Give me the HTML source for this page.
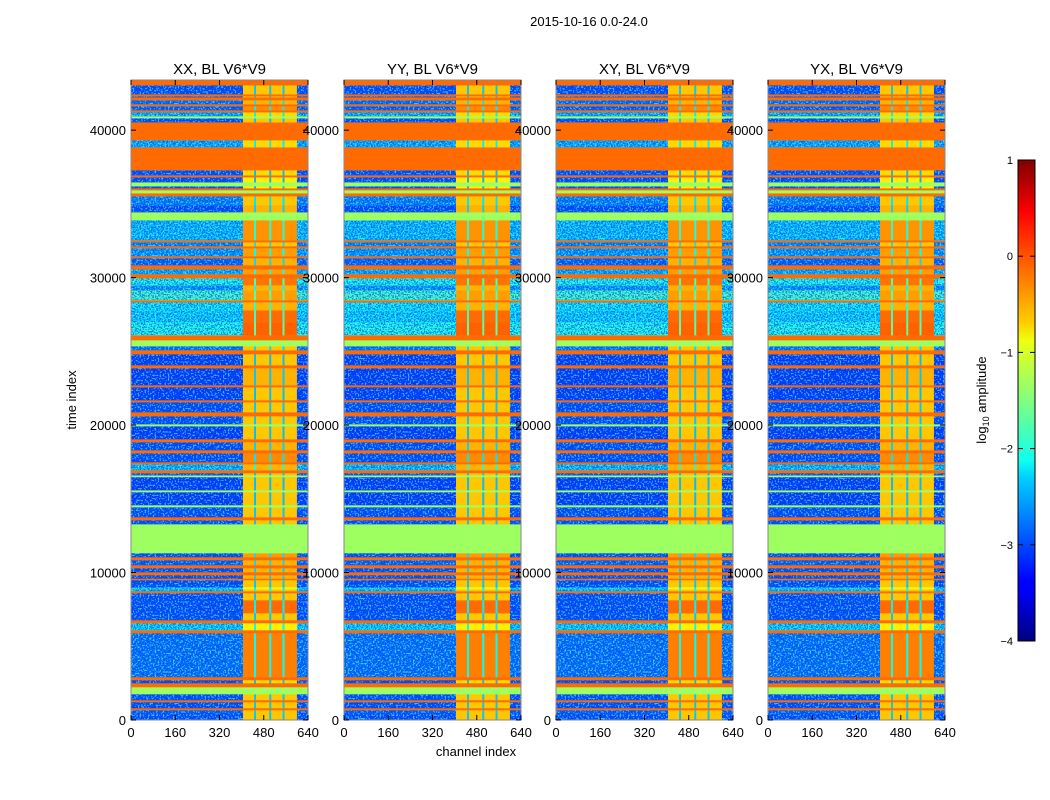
<!DOCTYPE html>
<html><head><meta charset="utf-8">
<style>
body{margin:0;background:#fff;}
svg{display:block;font-family:"Liberation Sans",sans-serif;}
</style></head>
<body>
<svg id="chart" width="1050" height="800" viewBox="0 0 1050 800">
<defs>
<linearGradient id="jet" x1="0" y1="1" x2="0" y2="0">
<stop offset="0" stop-color="#000080"/><stop offset="0.11" stop-color="#0000ff"/>
<stop offset="0.125" stop-color="#0000ff"/><stop offset="0.34" stop-color="#00d0ff"/>
<stop offset="0.375" stop-color="#10ffef"/><stop offset="0.5" stop-color="#80ff80"/>
<stop offset="0.625" stop-color="#efff10"/><stop offset="0.66" stop-color="#ffd000"/>
<stop offset="0.875" stop-color="#ff1000"/><stop offset="0.89" stop-color="#ff0000"/>
<stop offset="1" stop-color="#800000"/>
</linearGradient>
<filter id="speck" x="0" y="0" width="100%" height="100%">
<feTurbulence type="fractalNoise" baseFrequency="0.7" numOctaves="1" seed="3"/>
<feColorMatrix type="matrix" values="0 0 0 0 0  0 0 0 0 0.05  0 0 0 0 0.8  0 0 0 -9 5"/>
</filter>
<filter id="speck2" x="0" y="0" width="100%" height="100%">
<feTurbulence type="fractalNoise" baseFrequency="0.6" numOctaves="1" seed="11"/>
<feColorMatrix type="matrix" values="0 0 0 0 0.1  0 0 0 0 0.9  0 0 0 0 1  0 0 0 -9 4.2"/>
</filter>
<pattern id="noise" patternUnits="userSpaceOnUse" width="120" height="120">
<rect width="120" height="120" filter="url(#speck)"/>
<rect width="120" height="120" filter="url(#speck2)"/>
</pattern>
</defs>
<text x="589" y="26" font-size="13" text-anchor="middle">2015-10-16 0.0-24.0</text>
<g id="panels"></g>
<text x="476" y="756" font-size="13" text-anchor="middle">channel index</text>
<text x="76" y="400" font-size="13" text-anchor="middle" transform="rotate(-90 76 400)">time index</text>
<g>
<rect x="1018" y="160" width="17" height="481" fill="url(#jet)" stroke="#000" stroke-width="1"/>
<g id="cbticks"></g>
<text x="986" y="400" font-size="13" text-anchor="middle" transform="rotate(-90 986 400)">log<tspan font-size="9" dy="3">10</tspan><tspan dy="-3"> amplitude</tspan></text>
</g>
</svg>
<script>
const panelTitles = ["XX, BL V6*V9","YY, BL V6*V9","XY, BL V6*V9","YX, BL V6*V9"];
const xTicks = [0,160,320,480,640];
const yTicks = [0,10000,20000,30000,40000];
const cbTicks = [1,0,-1,-2,-3,-4];
const timeEdges = [0,475,678,814,1220,1356,1763,2237,2509,2712,2915,5899,6102,6577,6780,7255,8136,8611,8746,8882,9017,9492,9600,9831,10034,10306,10509,10848,11051,11323,13289,13560,13763,14440,14580,15460,15590,16480,16600,16747,16950,17357,17492,18103,18306,18848,19052,19933,20069,20611,20882,21560,21696,22577,22713,23866,24069,24815,25086,25357,25764,26103,26984,27798,28340,28476,29154,29493,29968,30239,30578,30849,31324,31459,32002,32137,32408,32544,33900,34442,34917,35527,35731,35934,36070,36205,36476,36815,36951,37290,38849,39324,40544,40816,40951,41222,41358,41629,41765,42036,42239,42307,42443,43053,43400];
const leftVals = [-3.0,-2.9,-0.15,-3.0,-0.15,-3.0,-1.35,-0.15,-3.0,-0.15,-2.8,-0.15,-2.3,-0.15,-3.0,-3.0,-3.0,-0.15,-2.5,-2.2,-3.0,-0.15,-3.0,-0.15,-3.0,-0.15,-2.9,-0.15,-3.0,-1.35,-3.0,-0.15,-3.0,-1.35,-3.1,-1.35,-3.1,-1.35,-3.0,-0.15,-2.4,-0.15,-3.0,-0.15,-3.0,-0.15,-3.1,-1.35,-3.0,-0.15,-3.0,-0.15,-3.1,-0.15,-3.1,-0.15,-3.1,-0.15,-2.8,-1.35,-0.15,-2.0,-2.3,-2.2,-0.15,-1.8,-2.6,-2.0,-0.15,-2.5,-0.15,-2.9,-0.15,-2.6,-0.15,-2.7,-0.15,-2.4,-1.35,-3.0,-2.7,-0.15,-1.35,-0.15,-3.0,-1.35,-3.0,-0.15,-3.0,-0.15,-2.5,-0.15,-3.0,-1.35,-2.5,-0.15,-2.9,-0.15,-2.8,-0.15,-3.0,-0.15,-3.0,-0.15];
const rightVals = [-0.6,-0.6,-0.15,-0.6,-0.15,-0.6,-1.35,-0.15,-0.7,-0.15,-0.25,-0.15,-0.8,-0.15,-0.6,-0.15,-0.6,-0.15,-0.6,-1.0,-0.6,-0.15,-0.5,-0.15,-0.5,-0.15,-0.5,-0.15,-0.4,-1.35,-0.6,-0.15,-0.6,-1.35,-0.6,-1.35,-0.6,-1.35,-0.6,-0.15,-0.5,-0.15,-0.3,-0.15,-0.5,-0.15,-0.6,-1.35,-0.6,-0.15,-0.6,-0.15,-0.6,-0.15,-0.5,-0.15,-0.6,-0.15,-0.6,-1.35,-0.15,-0.1,-0.15,-0.5,-0.15,-0.4,-0.5,-0.2,-0.15,-0.4,-0.15,-0.5,-0.15,-0.4,-0.15,-0.6,-0.15,-0.35,-1.35,-0.5,-0.6,-0.15,-1.35,-0.15,-0.8,-1.35,-0.8,-0.15,-0.7,-0.15,-0.7,-0.15,-0.6,-1.35,-0.7,-0.15,-0.3,-0.15,-0.5,-0.15,-0.6,-0.15,-0.6,-0.15];
const channelEdges = [0,405,445,452,500,507,548,555,600,640];
const channelKinds = ["L","R","G","R","G","R","G","R","E"];
const panelLefts = [131,344,556,768];
const PW = 177, TOP = 80, BOT = 720, TMAX = 43400, CMAX = 640;
const NS = "http://www.w3.org/2000/svg";
function jet(v){
  let f = Math.max(0, Math.min(1, (v + 4) / 5));
  const c = x => Math.round(255 * Math.max(0, Math.min(1, 1.5 - Math.abs(x))));
  return `rgb(${c(4*f-3)},${c(4*f-2)},${c(4*f-1)})`;
}
function yScale(t){ return BOT - (t / TMAX) * (BOT - TOP); }
function mk(tag, attrs){ const e = document.createElementNS(NS, tag); for (const k in attrs) e.setAttribute(k, attrs[k]); return e; }
const root = document.getElementById('panels');
panelLefts.forEach((px, pi) => {
  const xScale = c => px + (c / CMAX) * PW;
  const g = mk('g', {});
  
  
  root.appendChild(g);
  for (let i = 0; i < leftVals.length; i++) {
    const L = leftVals[i], R = rightVals[i];
    const y1 = yScale(timeEdges[i+1]), y0 = yScale(timeEdges[i]);
    for (let j = 0; j < channelKinds.length; j++) {
      const k = channelKinds[j];
      let v = k === "L" ? L : k === "R" ? R : k === "E" ? L : (L === R ? L : (L + R) / 2 - 0.6);
      const x0 = xScale(channelEdges[j]), x1 = xScale(channelEdges[j+1]);
      const r = mk('rect', {x: x0.toFixed(2), y: y1.toFixed(2), width: (x1 - x0 + 0.3).toFixed(2), height: (y0 - y1 + 0.3).toFixed(2), fill: jet(v)});
      
      
      g.appendChild(r);
      if (L !== R && (k === "L" || k === "E")) {
        const n = mk('rect', {x: x0.toFixed(2), y: y1.toFixed(2), width: (x1 - x0).toFixed(2), height: (y0 - y1).toFixed(2), fill: 'url(#noise)', opacity: 0.65});
        
        
        g.appendChild(n);
      }
    }
  }
  const frame = mk('rect', {x: px, y: TOP, width: PW, height: BOT - TOP, fill: 'none', stroke: '#888', 'stroke-width': 1});
  
  
  g.appendChild(frame);
  const title = mk('text', {x: px + PW/2, y: 74, 'font-size': 15, 'text-anchor': 'middle'});
  title.textContent = panelTitles[pi];
  
  
  g.appendChild(title);
  xTicks.forEach(t => {
    const x = xScale(t);
    g.appendChild(mk('line', {x1: x, x2: x, y1: BOT, y2: BOT - 5, stroke: '#000'}));
    g.appendChild(mk('line', {x1: x, x2: x, y1: TOP, y2: TOP + 5, stroke: '#000'}));
    const tx = mk('text', {x: x, y: BOT + 17, 'font-size': 13, 'text-anchor': 'middle'});
    tx.textContent = t;
    
    
    g.appendChild(tx);
  });
  yTicks.forEach(t => {
    const y = yScale(t);
    g.appendChild(mk('line', {x1: px, x2: px + 5, y1: y, y2: y, stroke: '#000'}));
    g.appendChild(mk('line', {x1: px + PW, x2: px + PW - 5, y1: y, y2: y, stroke: '#000'}));
    const ty = mk('text', {x: px - 5, y: y + 5, 'font-size': 13, 'text-anchor': 'end'});
    ty.textContent = t;
    
    
    g.appendChild(ty);
  });
});
const cb = document.getElementById('cbticks');
cbTicks.forEach(v => {
  const y = 641 - (v + 4) / 5 * 481;
  cb.appendChild(mk('line', {x1: 1018, x2: 1023, y1: y, y2: y, stroke: '#000'}));
  cb.appendChild(mk('line', {x1: 1035, x2: 1030, y1: y, y2: y, stroke: '#000'}));
  const t = mk('text', {x: 1013, y: y + 4, 'font-size': 11, 'text-anchor': 'end'});
  t.textContent = v < 0 ? '\u2212' + Math.abs(v) : v;
  
  
  cb.appendChild(t);
});
</script>
</body></html>
